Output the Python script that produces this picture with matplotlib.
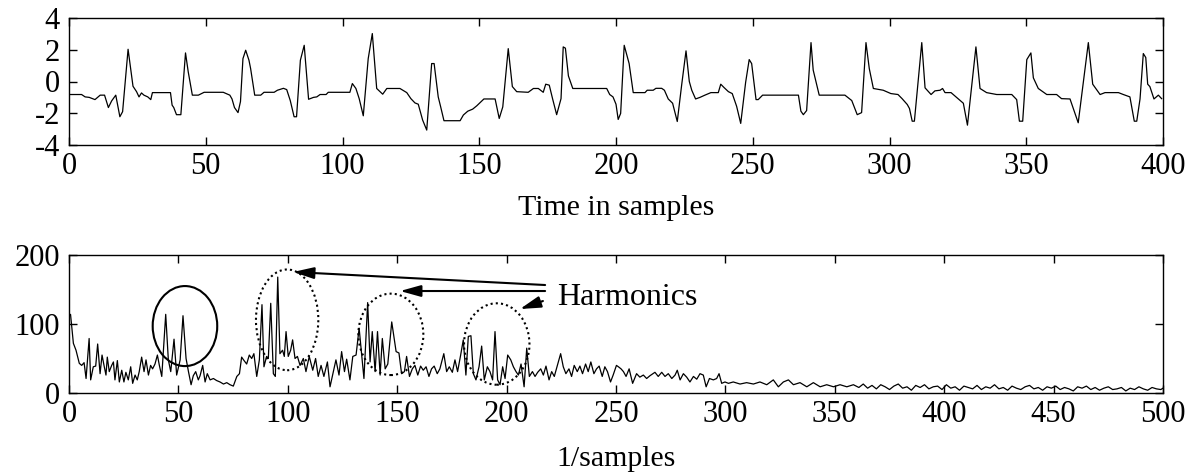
import matplotlib
matplotlib.use("Agg")
import matplotlib.pyplot as plt
from matplotlib.patches import Ellipse

plt.rcParams['font.family'] = ['Liberation Serif', 'DejaVu Serif']
plt.rcParams['axes.unicode_minus'] = False

# ---------------- data: time signal (vertices) ----------------
time_x = [0, 4.6, 5.9, 7.4, 9.5, 11.4, 13.0, 14.4, 15.6, 17.1, 18.6, 19.6, 21.6, 23.4, 24.7, 25.6,
          26.5, 27.4, 28.8, 29.9, 30.5, 37.1, 37.7, 38.3, 39.3, 40.9, 42.6, 43.6, 45.1, 47.3, 49.4,
          56.4, 58.8, 59.6, 60.5, 61.8, 62.7, 63.6, 64.6, 65.8, 66.4, 67.9, 70.1, 71.3, 75.0, 76.2,
          78.4, 79.6, 80.9, 82.3, 83.2, 84.6, 86.0, 87.6, 89.4, 90.6, 91.8, 94.0, 94.8, 102.7, 103.6,
          104.9, 106.1, 107.6, 109.4, 110.9, 112.5, 114.7, 116.2, 121.0, 123.5, 125.0, 126.5, 127.7,
          129.3, 130.8, 132.6, 133.5, 135.0, 135.9, 137.1, 143.0, 144.2, 145.8, 147.6, 149.1, 151.7,
          155.8, 157.3, 158.6, 160.6, 162.1, 163.7, 167.9, 169.8, 171.6, 173.4, 174.3, 175.6, 176.8,
          178.3, 179.9, 180.7, 181.5, 182.6, 184.2, 196.6, 197.7, 198.9, 200.0, 200.8, 201.7, 203.0,
          204.8, 206.3, 210.6, 211.4, 213.6, 214.6, 216.7, 217.7, 219.1, 220.7, 222.4, 224.0, 225.6,
          226.8, 227.7, 229.1, 230.7, 232.5, 234.7, 237.4, 238.3, 239.5, 241.1, 242.5, 244.1, 245.6,
          247.4, 248.7, 249.6, 251.2, 252.0, 253.6, 266.7, 267.6, 268.5, 269.7, 271.3, 272.1, 274.3,
          283.7, 286.2, 287.1, 288.2, 289.8, 291.4, 292.6, 294.1, 297.7, 300.5, 303.1, 304.6, 306.5,
          307.3, 308.3, 309.1, 311.8, 313.0, 315.2, 316.6, 318.5, 319.4, 320.3, 322.5, 325.2, 327.0,
          328.5, 331.6, 333.1, 335.5, 339.2, 344.7, 346.5, 347.5, 348.7, 350.2, 351.7, 352.6, 354.4,
          357.5, 361.1, 362.9, 366.0, 369.0, 372.7, 374.3, 377.0, 378.8, 383.7, 385.5, 387.9, 389.5,
          390.4, 391.6, 392.8, 393.7, 394.4, 395.2, 396.7, 398.3, 399.5]
time_y = [-0.82, -0.82, -0.97, -1.0, -1.14, -0.86, -0.86, -1.64, -1.22, -0.86, -2.22, -1.9, 2.03, -0.3,
          -0.64, -0.97, -0.72, -0.86, -0.97, -1.14, -0.7, -0.7, -1.49, -1.64, -2.09, -2.09, 1.8, 0.6,
          -0.86, -0.86, -0.68, -0.68, -0.86, -1.1, -1.64, -1.96, -1.26, 1.44, 1.97, 1.34, 0.82, -0.86,
          -0.86, -0.68, -0.68, -0.55, -0.43, -0.51, -1.2, -2.22, -2.22, 1.34, 2.28, -1.12, -1.0, -0.97,
          -0.82, -0.82, -0.68, -0.68, -0.13, -0.44, -1.08, -2.16, 1.44, 3.02, -0.44, -0.8, -0.44, -0.44,
          -0.7, -1.08, -1.35, -1.43, -2.43, -3.06, 1.13, 1.13, -0.97, -1.6, -2.47, -2.47, -2.11, -1.87,
          -1.74, -1.53, -1.1, -1.1, -2.33, -1.6, 2.07, -0.32, -0.64, -0.68, -0.44, -0.44, -0.68, -0.17,
          -0.23, -1.08, -2.09, -1.08, 2.18, 2.1, 0.35, -0.44, -0.44, -0.82, -0.97, -1.43, -2.39, -2.01,
          2.28, 1.13, -0.7, -0.7, -0.55, -0.55, -0.43, -0.43, -0.55, -1.1, -1.37, -2.52, -0.23, 1.93,
          0.0, -0.55, -1.1, -1.0, -0.86, -0.7, -0.7, -0.17, -0.38, -0.64, -0.76, -1.56, -2.64, -0.05,
          1.38, 1.13, -1.14, -1.14, -0.86, -0.86, -1.87, -2.09, -1.83, 2.45, 0.72, -0.86, -0.86, -1.2,
          -1.6, -2.09, -1.96, 2.45, 0.82, -0.44, -0.55, -0.76, -0.82, -1.08, -1.45, -1.7, -2.5, -2.5,
          2.45, -0.4, -0.82, -0.59, -0.55, -0.44, -0.7, -0.7, -1.1, -1.37, -2.75, 2.18, -0.44, -0.7,
          -0.82, -0.82, -1.14, -2.5, -2.5, 1.38, 1.8, 0.23, -0.44, -0.82, -0.82, -1.08, -1.1, -2.6,
          2.45, -0.17, -0.82, -0.7, -0.7, -0.82, -0.97, -2.5, -2.5, -1.1, 1.76, 1.51, -0.17, -0.32,
          -1.1, -0.86, -1.08]

# ---------------- data: spectrum (vertices) ----------------
spec_x = [0, 0.7, 2.0, 3.2, 4.7, 5.8, 6.9, 7.8, 9.2, 9.9, 11.1, 12.2, 13.1, 14.2, 15.1, 16.0, 16.9,
          17.5, 18.4, 19.5, 20.3, 21.0, 22.1, 23.0, 24.1, 25.1, 26.0, 27.1, 28.2, 29.1, 30.2, 31.2,
          32.1, 33.2, 34.3, 35.2, 36.3, 37.3, 38.2, 39.3, 40.4, 41.3, 42.4, 44.2, 45.4, 46.5, 48.0,
          49.2, 50.8, 52.1, 53.5, 54.6, 55.8, 56.8, 57.9, 59.1, 59.9, 61.1, 62.2, 63.2, 64.5, 66.0,
          67.5, 69.0, 70.6, 72.1, 73.6, 75.1, 76.7, 77.9, 78.9, 80.0, 81.2, 82.4, 83.5, 84.5, 85.8,
          87.0, 88.2, 89.1, 90.3, 91.1, 92.2, 93.4, 94.3, 95.4, 96.4, 97.6, 98.4, 99.2, 100.2, 101.3,
          102.2, 103.3, 104.4, 105.6, 107.1, 108.3, 109.8, 111.4, 112.7, 113.9, 115.2, 116.5, 118.1,
          119.3, 120.8, 122.0, 123.4, 124.6, 125.9, 126.9, 128.4, 129.7, 131.2, 132.6, 133.8, 134.8,
          136.5, 137.6, 138.6, 139.9, 141.0, 142.2, 143.2, 144.5, 145.7, 147.5, 149.5, 150.8, 152.0,
          153.3, 154.3, 155.6, 156.9, 158.1, 159.4, 160.7, 161.9, 163.2, 164.5, 165.7, 166.9, 168.3,
          169.5, 171.3, 172.6, 173.8, 175.2, 176.4, 177.6, 179.0, 180.2, 181.4, 182.5, 183.7, 184.8,
          186.0, 187.4, 188.6, 189.8, 191.2, 192.4, 193.6, 194.7, 195.9, 197.0, 198.2, 199.3, 200.5,
          201.9, 203.1, 204.3, 205.4, 206.6, 208.0, 209.2, 210.4, 211.8, 213.0, 214.2, 215.6, 216.8,
          218.0, 219.4, 220.6, 221.8, 223.2, 224.7, 225.9, 227.1, 228.5, 229.7, 230.9, 232.3, 233.5,
          234.7, 236.1, 237.3, 238.5, 239.9, 241.1, 242.3, 243.7, 244.9, 246.1, 247.5, 248.7, 250.2,
          251.1, 252.3, 253.4, 254.6, 256.0, 257.6, 259.4, 260.9, 262.5, 264.0, 265.5, 267.8, 269.3,
          270.9, 272.4, 273.9, 275.5, 277.0, 278.0, 279.3, 280.8, 282.3, 283.8, 285.4, 286.9, 288.4,
          289.9, 291.2, 292.7, 294.5, 296.0, 297.1, 298.3, 299.8, 301.4, 303.6, 306.7, 309.7, 312.8,
          315.8, 318.9, 321.9, 324.2, 326.5, 328.8, 331.1, 334.1, 337.2, 340.2, 343.3, 346.3, 349.4,
          352.4, 355.5, 358.5, 361, 363, 365, 367, 369, 371, 373, 375, 377, 379, 381, 383, 385, 387,
          389, 391, 393, 395, 397, 399, 401, 403, 405, 407, 409, 411, 413, 415, 417, 419, 421, 423,
          425, 427, 429, 431, 433, 435, 437, 439, 441, 443, 445, 447, 449, 451, 453, 455, 457, 459,
          461, 463, 465, 467, 469, 471, 473, 475, 477, 479, 481, 483, 485, 487, 489, 491, 493, 495,
          497, 499, 500]
spec_y = [112, 114, 72, 62, 43, 40, 44, 21, 79, 19, 38, 39, 71, 28, 55, 40, 26, 52, 31, 40, 45, 19,
          47, 16, 33, 16, 30, 19, 38, 14, 26, 19, 31, 52, 31, 48, 26, 40, 35, 42, 55, 40, 24, 114,
          48, 31, 78, 26, 48, 112, 50, 31, 12, 25, 31, 19, 25, 40, 16, 28, 19, 21, 18, 16, 13, 15,
          12, 10, 24, 28, 52, 47, 42, 55, 50, 57, 24, 48, 128, 38, 53, 50, 130, 28, 24, 168, 57, 62,
          53, 89, 53, 62, 77, 50, 53, 40, 50, 31, 53, 33, 50, 24, 40, 24, 45, 9, 31, 48, 26, 60, 31,
          49, 19, 53, 55, 94, 55, 21, 131, 45, 89, 31, 89, 26, 79, 35, 42, 103, 60, 58, 28, 31, 53,
          24, 35, 40, 26, 39, 33, 38, 24, 35, 39, 28, 35, 57, 31, 38, 30, 48, 31, 55, 77, 26, 82, 83,
          28, 19, 38, 68, 19, 38, 31, 19, 89, 19, 12, 38, 21, 55, 48, 38, 31, 26, 42, 9, 65, 24, 31,
          24, 30, 35, 26, 39, 19, 31, 24, 40, 57, 38, 28, 35, 24, 40, 31, 39, 28, 42, 31, 45, 28, 35,
          39, 24, 38, 31, 16, 26, 40, 38, 35, 31, 24, 35, 14, 28, 23, 26, 21, 25, 30, 24, 30, 24, 28,
          21, 26, 33, 19, 28, 23, 16, 24, 20, 28, 26, 9, 21, 19, 21, 28, 14, 16, 14, 16, 13, 15, 13,
          16, 12, 19, 9, 16, 19, 12, 15, 9, 15, 9, 12, 9, 12, 9, 12, 8, 13, 7, 11, 6, 12, 9, 5, 10,
          13, 7, 9, 4, 11, 8, 12, 6, 9, 10, 5, 12, 7, 9, 4, 10, 8, 6, 11, 5, 9, 7, 12, 6, 8, 4, 10, 7,
          5, 9, 11, 6, 8, 4, 9, 7, 10, 5, 8, 6, 3, 9, 7, 10, 5, 8, 4, 7, 9, 5, 6, 8, 3, 7, 5, 9, 6, 4,
          8, 6, 5, 7]

time_xticks = [0, 50, 100, 150, 200, 250, 300, 350, 400]
time_yticks = [-4, -2, 0, 2, 4]
spec_xticks = [0, 50, 100, 150, 200, 250, 300, 350, 400, 450, 500]
spec_yticks = [0, 100, 200]

# ---------------- figure ----------------
W, H = 1194, 472
fig = plt.figure(figsize=(W / 100, H / 100), dpi=100)

def axes_px(left, top, right, bottom):
    return fig.add_axes([left / W, 1 - bottom / H, (right - left) / W, (bottom - top) / H])

ax1 = axes_px(69, 18, 1163, 145)
ax2 = axes_px(69, 255, 1163, 393)

fs = 22
for ax in (ax1, ax2):
    ax.tick_params(direction='in', top=True, right=True, length=6, width=1, labelsize=fs)
    ax.tick_params(axis='x', pad=5)
    ax.tick_params(axis='y', pad=6.5)
    for s in ax.spines.values():
        s.set_linewidth(1.0)

ax1.plot(time_x, time_y, color='k', lw=0.9)
ax1.set_xlim(0, 400)
ax1.set_ylim(-4, 4)
ax1.set_xticks(time_xticks)
ax1.set_yticks(time_yticks)
ax1.set_xlabel('Time in samples', fontsize=21.5, va='baseline')
ax1.xaxis.set_label_coords(0.5, (145 - 215) / 127)

ax2.plot(spec_x, spec_y, color='k', lw=0.9)
ax2.set_xlim(0, 500)
ax2.set_ylim(0, 200)
ax2.set_xticks(spec_xticks)
ax2.set_yticks(spec_yticks)
ax2.set_xlabel('1/samples', fontsize=21.5, va='baseline')
ax2.xaxis.set_label_coords(0.5, (393 - 466) / 138)

# circles
ax2.add_patch(Ellipse((53.0, 97), 29.5, 116, fill=False, ec='k', lw=1.5, ls='-'))
for (cx, cy, w, h) in [(99.7, 106, 28.5, 146), (147.1, 85, 29.7, 118), (195.5, 71, 29.9, 118)]:
    ax2.add_patch(Ellipse((cx, cy), w, h, fill=False, ec='k', lw=1.5, ls=(0, (1, 1.5))))

ax2.text(223, 139, 'Harmonics', fontsize=23, va='center', ha='left')
astyle = dict(arrowstyle='-|>,head_length=0.9,head_width=0.25', color='k', lw=1.5,
              mutation_scale=14, shrinkA=0, shrinkB=0)
ax2.annotate('', xy=(102.4, 175.4), xytext=(217.6, 156.5), arrowprops=astyle)
ax2.annotate('', xy=(151.3, 147.8), xytext=(217.6, 147.8), arrowprops=astyle)
ax2.annotate('', xy=(206.1, 121.7), xytext=(216.6, 133.3), arrowprops=astyle)

fig.savefig('out.png', dpi=100)
